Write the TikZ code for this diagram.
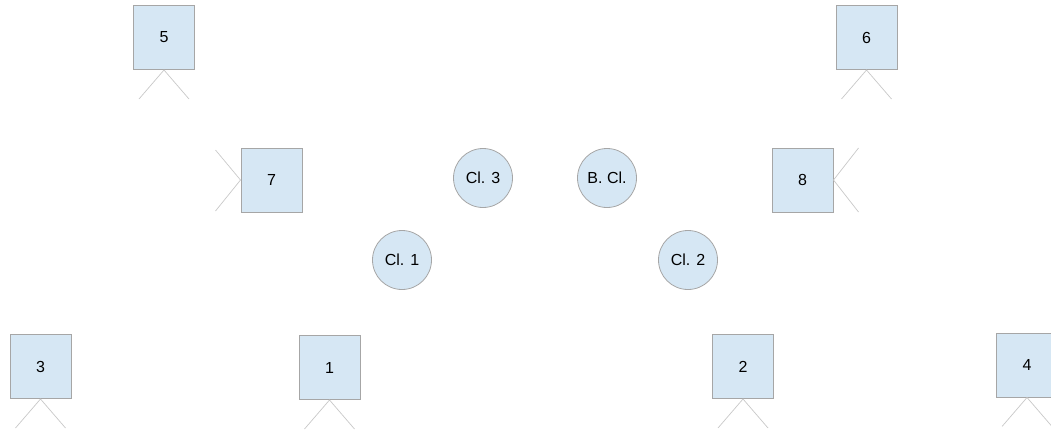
\documentclass[tikz,border=0pt]{standalone}
\usepackage{fontspec}
\setmainfont{Liberation Sans}
\definecolor{boxfill}{HTML}{D6E7F4}
\definecolor{boxline}{HTML}{A6A6A6}
\definecolor{legline}{HTML}{C8C8C8}
\begin{document}
\begin{tikzpicture}[x=1pt,y=-1pt,
  box/.style={draw=boxline,fill=boxfill,line width=1pt,minimum width=61pt,minimum height=64pt,inner sep=0pt,font=\fontsize{16}{19}\selectfont},
  clu/.style={circle,draw=boxline,fill=boxfill,line width=0.8pt,minimum size=59pt,inner sep=0pt,font=\fontsize{16}{19}\selectfont},
  leg/.style={draw=legline,line width=0.7pt}]
\useasboundingbox (0,0) rectangle (1051,429);
\clip (0,0) rectangle (1051,429);
% boxes
\node[box] (b5) at (164,37.5) {5};
\node[box] (b6) at (866.5,37.5) {6};
\node[box] (b7) at (271.5,180) {7};
\node[box] (b8) at (802.5,180) {8};
\node[box] (b3) at (40.5,366.5) {3};
\node[box] (b1) at (329.5,367.5) {1};
\node[box] (b2) at (743,366.5) {2};
\node[box] (b4) at (1027,365) {4};
% circles
\node[clu] (c3) at (483,178) {Cl. 3};
\node[clu] (bc) at (607,178) {B. Cl.};
\node[clu] (c1) at (402,260) {Cl. 1};
\node[clu] (c2) at (688,260) {Cl. 2};
% leg end points
\foreach \n in {b5,b6,b3,b1,b2,b4}{
  \coordinate (\n l) at ([shift={(-25,29)}]\n.south);
  \coordinate (\n r) at ([shift={(25,29)}]\n.south);
  \draw[leg] (\n l) -- (\n.south) -- (\n r);
}
\coordinate (b7u) at ([shift={(-25,-30)}]b7.west);
\coordinate (b7d) at ([shift={(-25,31)}]b7.west);
\draw[leg] (b7u) -- (b7.west) -- (b7d);
\coordinate (b8u) at ([shift={(25,-32)}]b8.east);
\coordinate (b8d) at ([shift={(25,32)}]b8.east);
\draw[leg] (b8u) -- (b8.east) -- (b8d);
\end{tikzpicture}
\end{document}
